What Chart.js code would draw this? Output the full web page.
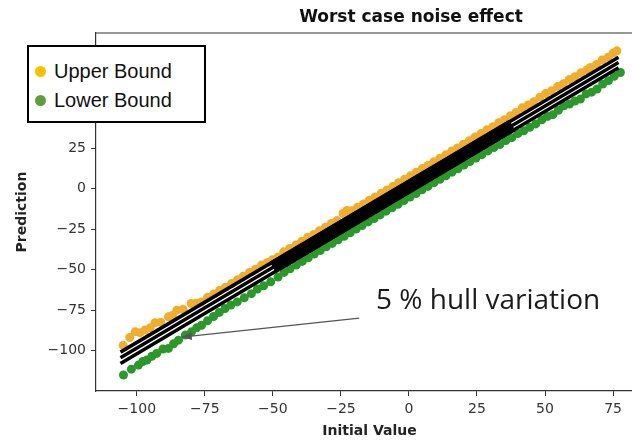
<!DOCTYPE html>
<html>
<head>
<meta charset="utf-8">
<script src="https://cdn.jsdelivr.net/npm/chart.js@4"></script>
<style>
  html, body { margin: 0; padding: 0; background: #fff; overflow: hidden; }
  #wrap { position: relative; width: 632px; height: 444px; overflow: hidden; }
  #chart { position: absolute; left: 0; top: 0; }
  .legend {
    position: absolute; left: 27px; top: 45px; width: 179px; height: 78px;
    box-sizing: border-box; border: 2px solid #000; background: #fff;
    padding: 10px 0 0 6px;
    font-family: 'Liberation Sans', Arial, sans-serif; font-size: 20px; color: #111;
  }
  .legend div { height: 29px; line-height: 29px; white-space: nowrap; }
  .legend span.dot { display: inline-block; width: 11px; height: 11px; border-radius: 50%; margin-right: 8px; vertical-align: 1px; }
</style>
</head>
<body>
<div id="wrap">
  <canvas id="chart" width="660" height="444"></canvas>
  <div class="legend" id="legend"></div>
</div>
<script>
// orange = upper bound, green = lower bound
const upperX = [-105.0, -102.6, -100.6, -98.8, -97.0, -95.1, -93.3, -91.2, -88.4, -86.9, -85.3, -83.0, -80.0, -78.1,
  -76.2, -74.0, -71.8, -69.6, -67.5, -65.2, -63.0, -60.9, -58.6, -56.4, -54.1, -52.0, -50.1, -48.1, -46.0, -43.8,
  -41.5, -39.4, -37.2, -35.0, -32.9, -30.7, -28.5, -26.4, -24.2, -22.8, -21.0, -18.9, -16.7, -14.6, -12.4, -10.2,
  -8.1, -5.9, -3.8, -1.6, 0.6, 2.7, 4.9, 7.0, 9.2, 11.4, 13.5, 15.7, 17.8, 20.0, 22.2, 24.3, 26.5, 28.6, 30.8,
  33.0, 35.1, 37.3, 39.4, 41.6, 43.8, 45.9, 48.1, 50.2, 52.4, 54.6, 56.7, 58.9, 61.0, 63.2, 65.4, 66.7, 68.9,
  71.0, 73.2, 75.0, 76.4]
const upperY = [-96.8, -92.0, -88.5, -89.0, -87.4, -86.0, -82.9, -82.5, -79.2, -78.4, -75.1, -74.6, -71.0, -70.8,
  -70.0, -67.2, -65.1, -62.9, -61.0, -58.7, -56.3, -54.1, -51.8, -49.9, -47.2, -45.6, -43.9, -42.3, -39.1, -37.0,
  -34.8, -32.6, -30.1, -28.4, -26.0, -23.9, -21.6, -19.7, -15.4, -13.6, -13.8, -11.6, -9.5, -7.3, -5.2, -3.0,
  -0.9, 1.3, 3.6, 5.7, 7.9, 10.0, 12.3, 14.2, 16.5, 18.7, 20.8, 23.1, 25.0, 27.4, 29.5, 31.8, 33.9, 36.2, 38.1,
  40.6, 42.5, 44.9, 47.0, 49.8, 51.6, 53.6, 56.4, 58.6, 60.3, 62.9, 64.6, 67.3, 69.0, 71.4, 73.2, 74.7, 76.6,
  79.4, 81.0, 83.6, 85.0]
const lowerX = [-104.9, -102.0, -99.4, -97.8, -96.3, -94.5, -92.7, -90.4, -88.4, -86.5, -84.7, -82.2, -79.9, -78.0,
  -76.2, -74.0, -71.8, -69.7, -67.6, -65.4, -63.1, -60.5, -57.9, -55.7, -53.4, -50.8, -48.1, -45.9, -43.7, -41.4,
  -39.2, -37.0, -34.8, -32.6, -30.4, -28.2, -26.0, -23.8, -21.6, -19.4, -17.2, -15.0, -12.8, -10.6, -8.4, -6.2,
  -4.0, -1.8, 0.4, 2.6, 4.8, 7.0, 9.2, 11.4, 13.6, 15.8, 18.0, 20.2, 22.4, 24.6, 26.8, 29.0, 31.2, 33.4, 35.6,
  37.8, 40.0, 42.2, 44.4, 46.6, 48.8, 50.9, 52.9, 54.9, 56.9, 59.0, 61.0, 63.0, 65.1, 67.1, 69.1, 71.2, 73.3,
  75.4, 77.7]
const lowerY = [-115.1, -111.5, -109.0, -106.8, -105.9, -103.6, -101.8, -99.1, -98.7, -95.8, -93.6, -90.5, -88.5, -86.0,
  -84.4, -81.6, -79.0, -76.5, -74.1, -71.9, -70.0, -67.4, -64.9, -62.0, -60.1, -57.6, -54.6, -51.8, -49.5, -47.2,
  -45.0, -42.8, -40.4, -38.3, -36.0, -33.9, -31.6, -29.5, -27.3, -25.0, -22.9, -20.6, -18.5, -16.3, -14.0, -11.9,
  -9.7, -7.4, -5.3, -3.1, -0.8, 1.3, 3.6, 5.7, 7.9, 10.1, 12.2, 14.5, 16.6, 18.8, 20.9, 23.2, 25.3, 27.2, 29.6,
  31.4, 33.9, 35.6, 37.8, 39.9, 42.4, 44.5, 45.6, 48.3, 51.1, 52.2, 54.0, 55.2, 58.4, 59.5, 61.4, 64.5, 66.6,
  69.3, 71.6]

// hull lines (black) and the dense prediction core between them
const hullX = [-106, 77]
const hullTop = [-101.0, 81.0]
const hullMid = [-104.5, 77.8]
const hullLow = [-108.0, 74.5]
const coreX = [-50, 38]
const coreY = [-48.7, 39.0]

const xTicks = [-100, -75, -50, -25, 0, 25, 50, 75]
const yTicks = [-100, -75, -50, -25, 0, 25, 50, 75]
const seriesNames = ['Upper Bound', 'Lower Bound']
const legendColors = ['#ffbf00', '#5f9e3c']

const noteText = '5 % hull variation'
const noteFrom = [-18.3, -80.0]
const noteTo = [-83.5, -91.7]
const noteAt = [-12.1, -74.5]

function pairs(xs, ys) {
  return xs.map((x, i) => ({ x: x, y: ys[i] }))
}

const legendEl = document.getElementById('legend')
seriesNames.forEach((name, i) => {
  const row = document.createElement('div')
  row.innerHTML = '<span class="dot" style="background:' + legendColors[i] + '"></span>' + name
  legendEl.appendChild(row)
})

const tickFont = { family: 'DejaVu Sans', size: 14 }
const titleFont = { family: 'DejaVu Sans', size: 14, weight: 'bold' }
const minus = (v) => String(v).replace('-', '\u2212')

const lineDs = (xs, ys, width, color, order) => ({
  data: pairs(xs, ys),
  showLine: true,
  borderColor: color,
  borderWidth: width,
  borderCapStyle: 'butt',
  pointRadius: 0,
  pointHoverRadius: 0,
  order: order,
})

const extras = {
  id: 'extras',
  afterDatasetsDraw(chart) {
    const { ctx, chartArea: a, scales } = chart
    const px = (p) => [scales.x.getPixelForValue(p[0]), scales.y.getPixelForValue(p[1])]
    ctx.save()
    // top spine
    ctx.strokeStyle = '#333'
    ctx.lineWidth = 1.2
    ctx.beginPath()
    ctx.moveTo(a.left, a.top)
    ctx.lineTo(a.right, a.top)
    ctx.lineTo(a.right, a.bottom)
    ctx.stroke()
    // title
    ctx.fillStyle = '#111'
    ctx.font = 'bold 17px "DejaVu Sans"'
    ctx.textAlign = 'center'
    ctx.textBaseline = 'middle'
    ctx.fillText('Worst case noise effect', 411, 18)
    // arrow
    const [x1, y1] = px(noteFrom)
    const [x2, y2] = px(noteTo)
    ctx.strokeStyle = '#555'
    ctx.fillStyle = '#555'
    ctx.lineWidth = 1.2
    ctx.beginPath()
    ctx.moveTo(x1, y1)
    ctx.lineTo(x2, y2)
    ctx.stroke()
    const ang = Math.atan2(y2 - y1, x2 - x1)
    ctx.beginPath()
    ctx.moveTo(x2, y2)
    ctx.lineTo(x2 - 10 * Math.cos(ang) + 4 * Math.sin(ang), y2 - 10 * Math.sin(ang) - 4 * Math.cos(ang))
    ctx.lineTo(x2 - 10 * Math.cos(ang) - 4 * Math.sin(ang), y2 - 10 * Math.sin(ang) + 4 * Math.cos(ang))
    ctx.closePath()
    ctx.fill()
    // note
    const [tx, ty] = px(noteAt)
    ctx.fillStyle = '#1a1a1a'
    ctx.font = '28px "Open Sans"'
    ctx.textAlign = 'left'
    ctx.textBaseline = 'alphabetic'
    ctx.fillText(noteText, tx, ty)
    ctx.restore()
  },
}

new Chart(document.getElementById('chart'), {
  type: 'scatter',
  data: {
    datasets: [
      lineDs(hullX, hullTop, 3.5, '#000', 1),
      lineDs(hullX, hullMid, 3.5, '#000', 1),
      lineDs(hullX, hullLow, 3.5, '#000', 1),
      lineDs(coreX, coreY, 13, '#000', 2),
      {
        label: seriesNames[0],
        data: pairs(upperX, upperY),
        backgroundColor: '#f0ad2e',
        borderWidth: 0,
        pointRadius: 4.5,
        order: 3,
      },
      {
        label: seriesNames[1],
        data: pairs(lowerX, lowerY),
        backgroundColor: '#2b982b',
        borderWidth: 0,
        pointRadius: 4.5,
        order: 3,
      },
    ],
  },
  options: {
    responsive: false,
    animation: false,
    events: [],
    layout: { padding: { top: 33, right: 17, left: 0, bottom: 0 } },
    plugins: { legend: { display: false }, tooltip: { enabled: false } },
    scales: {
      x: {
        type: 'linear',
        min: -115,
        max: 86,
        afterBuildTicks: (s) => { s.ticks = xTicks.map((v) => ({ value: v })) },
        afterFit: (s) => { s.height = 53 },
        ticks: { font: tickFont, color: '#333', padding: 5, callback: minus },
        grid: { drawOnChartArea: false, tickLength: 5, color: '#333' },
        border: { color: '#333', width: 1.2 },
        title: { display: true, text: 'Initial Value', font: titleFont, color: '#222', padding: { top: 0, bottom: 4 } },
      },
      y: {
        type: 'linear',
        min: -125,
        max: 96,
        afterBuildTicks: (s) => { s.ticks = yTicks.map((v) => ({ value: v })) },
        afterFit: (s) => { s.width = 96 },
        ticks: { font: tickFont, color: '#333', padding: 5, callback: minus },
        grid: { drawOnChartArea: false, tickLength: 5, color: '#333' },
        border: { color: '#333', width: 1.2 },
        title: { display: true, text: 'Prediction', font: titleFont, color: '#222', padding: { top: 14, bottom: 0 } },
      },
    },
  },
  plugins: [extras],
})
</script>
</body>
</html>
